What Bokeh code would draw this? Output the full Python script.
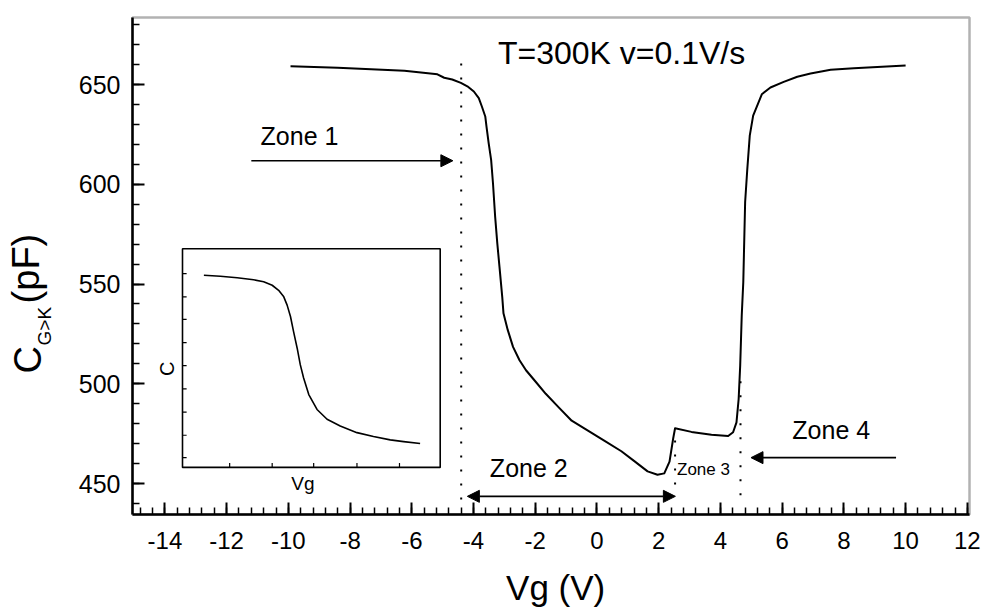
import numpy as np
from bokeh.plotting import figure
from bokeh.models import Range1d, FixedTicker, Label, Arrow, NormalHead, BoxAnnotation
from bokeh.embed import file_html
from bokeh.resources import INLINE

# ---- main C-V curve (Vg in V, C in pF) ----
vg = [-9.93, -8.40, -6.24, -5.17, -4.95, -4.69, -4.41, -4.20, -3.99, -3.83, -3.73, -3.62,
      -3.58, -3.51, -3.43, -3.37, -3.30, -3.23, -3.16, -3.07, -3.03, -2.89, -2.72, -2.51,
      -2.30, -1.98, -1.66, -1.24, -0.82, -0.28, 0.26, 0.79, 1.22, 1.64, 1.96, 2.18, 2.35,
      2.47, 2.53, 3.06, 3.71, 4.25, 4.41, 4.52, 4.59, 4.64, 4.69, 4.74, 4.80, 4.87, 4.95,
      5.06, 5.34, 5.62, 6.05, 6.49, 6.92, 7.57, 8.32, 10.0]
cap = [659.2, 658.4, 656.9, 655.1, 653.4, 652.5, 650.8, 649.1, 646.5, 643.2, 639.0, 634.0,
       628.9, 620.6, 612.2, 600.5, 583.8, 570.4, 558.7, 543.6, 535.3, 526.9, 518.5, 511.8,
       506.8, 500.9, 495.0, 488.2, 481.5, 476.4, 471.3, 466.2, 461.1, 456.1, 454.4, 455.1, 461.0,
       472.7, 477.7, 475.9, 474.5, 473.8, 475.7, 480.7, 492.4, 509.2, 534.2, 550.9, 591.0, 607.6, 624.4,
       634.4, 645.1, 648.5, 651.3, 653.9, 655.5, 657.4, 658.1, 659.5]

# ---- inset curve (arbitrary units 0..10) ----
inset_vg = [0.83, 1.47, 2.12, 2.76, 3.15, 3.48, 3.73, 3.93, 4.06, 4.19, 4.31, 4.45, 4.57,
            4.70, 4.90, 5.22, 5.61, 6.12, 6.77, 7.41, 8.06, 8.58, 9.22]
inset_c = [8.79, 8.74, 8.67, 8.58, 8.49, 8.33, 8.10, 7.80, 7.42, 6.90, 6.21, 5.45, 4.70,
           4.09, 3.33, 2.65, 2.20, 1.89, 1.59, 1.41, 1.26, 1.18, 1.09]
inset_xticks = [1.83, 3.48, 5.09, 6.77, 8.42]
inset_yticks = [0.45, 1.47, 2.53, 3.59, 4.65, 5.71, 6.77, 7.80, 8.86]

# ---- axes ----
X_LO, X_HI = -15.05, 12.07      # plot box
Y_LO, Y_HI = 434.5, 683.6
x_ticks = [-14, -12, -10, -8, -6, -4, -2, 0, 2, 4, 6, 8, 10, 12]
y_ticks = [450, 500, 550, 600, 650]

# ---- zone boundaries (dotted) ----
bound_x = [-4.40, 2.53, 4.65]
bound_lo = [442.0, 449.5, 444.1]
bound_hi = [665.0, 476.0, 507.2]

FONT = "Liberation Sans"

# The frame spans the margins so the axis titles (one with a subscript) can be drawn
# as text; both axes are pinned to the plot box.
p = figure(width=992, height=609, output_backend="svg", toolbar_location=None,
           x_range=Range1d(-19.327, 12.815), y_range=Range1d(386.88, 686.1),
           min_border_left=0, min_border_right=0, min_border_top=12,
           min_border_bottom=0)
p.grid.visible = False
p.outline_line_color = None
p.background_fill_color = "white"
p.border_fill_color = "white"

xminor = [round(v, 1) for v in np.arange(-14.8, 12.01, 0.4)]
yminor = list(range(440, 681, 10))
p.xaxis.ticker = FixedTicker(ticks=x_ticks, minor_ticks=xminor)
p.yaxis.ticker = FixedTicker(ticks=y_ticks, minor_ticks=yminor)
p.xaxis.major_label_overrides = {t: str(t) for t in x_ticks}
p.xaxis.bounds = (X_LO, X_HI)
p.yaxis.bounds = (Y_LO, Y_HI)
p.yaxis.fixed_location = X_LO
p.xaxis.fixed_location = Y_LO

for ax in (p.xaxis[0], p.yaxis[0]):
    ax.axis_line_width = 2.5
    ax.axis_line_color = "black"
    ax.major_tick_line_width = 2
    ax.minor_tick_line_width = 1.5
    ax.major_tick_line_color = "black"
    ax.minor_tick_line_color = "black"
    ax.major_tick_in = 12
    ax.major_tick_out = 0
    ax.minor_tick_in = 7
    ax.minor_tick_out = 0
    ax.major_label_text_font = FONT
    ax.major_label_text_color = "black"

p.xaxis.major_label_text_font_size = "24px"
p.yaxis.major_label_text_font_size = "25px"
p.xaxis.major_label_standoff = 18
p.yaxis.major_label_standoff = 12

# plot box (top and right edges; left/bottom are the axis lines)
p.add_layout(BoxAnnotation(left=X_LO, right=X_HI, bottom=Y_LO, top=Y_HI,
                           fill_alpha=0, line_color="black", line_width=2.5))

# main curve
p.line(vg, cap, line_color="black", line_width=2, line_join="round")

# dotted zone boundaries
p.segment(x0=bound_x, y0=bound_lo, x1=bound_x, y1=bound_hi,
          line_color="black", line_width=2, line_dash="2 12")

# arrows
def head():
    return NormalHead(size=12, fill_color="black", line_color="black", line_width=1)

p.add_layout(Arrow(end=head(), x_start=-11.2, y_start=611.8, x_end=-4.67, y_end=611.8,
                   line_width=1.6, line_color="black"))
p.add_layout(Arrow(start=head(), end=head(), x_start=-4.2, y_start=443.6, x_end=2.54,
                   y_end=443.6, line_width=1.6, line_color="black"))
p.add_layout(Arrow(end=head(), x_start=9.69, y_start=463.0, x_end=4.99, y_end=463.0,
                   line_width=1.6, line_color="black"))

# texts
def lab(x, y, t, size, align="center", baseline="middle", angle=0.0):
    p.add_layout(Label(x=x, y=y, text=t, text_font=FONT,
                       text_font_size=size, text_align=align, text_baseline=baseline,
                       angle=angle, text_color="black"))

lab(-3.21, 665.8, "T=300K v=0.1V/s", "32px", align="left")
lab(-9.64, 624.2, "Zone 1", "25px")
lab(-2.21, 457.6, "Zone 2", "25px")
lab(3.45, 456.8, "Zone 3", "17px")
lab(7.59, 476.8, "Zone 4", "25px")

# axis titles
lab(-1.34, 398.0, "Vg (V)", "35px", baseline="alphabetic")
lab(-18.42, 505.2, "C", "38px", align="left", baseline="alphabetic", angle=np.pi / 2)
lab(-17.89, 519.2, "G>K", "19px", align="left", baseline="alphabetic", angle=np.pi / 2)
lab(-18.49, 540.3, "(pF)", "38px", align="left", baseline="alphabetic", angle=np.pi / 2)

# ---- inset ----
sub = p.subplot(x_source=Range1d(0, 10), y_source=Range1d(0, 10),
                x_target=Range1d(-13.43, -5.08), y_target=Range1d(458.1, 567.7))
sub.quad(left=[0], right=[10], bottom=[0], top=[10], fill_color=None,
         line_color="black", line_width=1.6)
sub.line(inset_vg, inset_c, line_color="black", line_width=1.6, line_join="round")
sub.segment(x0=[0] * len(inset_yticks), y0=inset_yticks,
            x1=[0.16] * len(inset_yticks), y1=inset_yticks, line_color="black", line_width=1.2)
sub.segment(x0=inset_xticks, y0=[0] * len(inset_xticks),
            x1=inset_xticks, y1=[0.2] * len(inset_xticks), line_color="black", line_width=1.2)
lab(-13.94, 507.5, "C", "20px", angle=np.pi / 2)
lab(-9.53, 450.2, "Vg", "19px")

open("out.html", "w").write(file_html(p, INLINE))
